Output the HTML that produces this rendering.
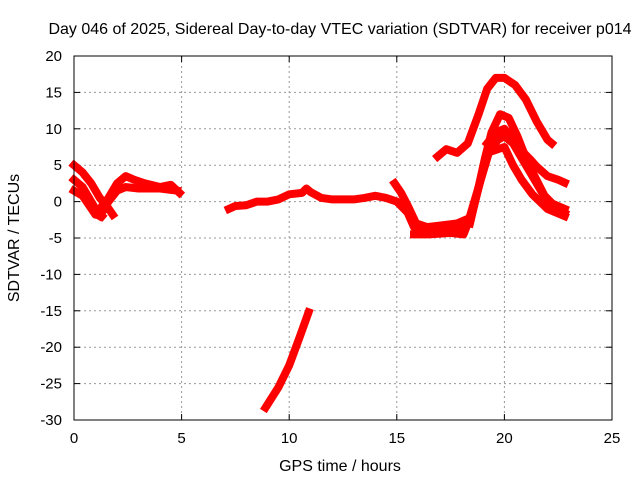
<!DOCTYPE html>
<html><head><meta charset="utf-8"><style>
body{margin:0;background:#fff}
svg{display:block;font-family:"Liberation Sans",sans-serif}
</style></head><body>
<svg id="c" width="640" height="480">
<text x="340" y="34" text-anchor="middle" font-size="16">Day 046 of 2025, Sidereal Day-to-day VTEC variation (SDTVAR) for receiver p014</text>
<text x="340" y="471" text-anchor="middle" font-size="16">GPS time / hours</text>
<text x="0" y="0" transform="translate(19,238) rotate(-90)" text-anchor="middle" font-size="16">SDTVAR / TECUs</text>
<g id="grid"></g><g id="series"></g>
<rect x="74" y="56" width="538" height="364" fill="none" stroke="#000" stroke-width="1"/>
</svg>
<script>
const xTicks=[0,5,10,15,20,25];
const yTicks=[20,15,10,5,0,-5,-10,-15,-20,-25,-30];
const s1=[[0,5],[0.4,4],[0.8,2.5],[1.2,0.5],[1.5,-0.5],[1.8,-1.8]];
const s2=[[0,3],[0.4,2],[0.8,0],[1.1,-1.5],[1.3,-2]];
const s3=[[0,1.5],[0.4,0.8],[0.7,-0.5],[1,-1.8],[1.2,-1],[1.6,0.5],[2,2.5],[2.4,3.5],[2.8,3],[3.3,2.5],[4,2],[4.5,2.3],[4.9,1.2]];
const s4=[[1.2,-2],[1.6,0],[2,1.5],[2.4,2],[3,1.8],[4,1.8],[4.8,1.5]];
const s5=[[7.2,-1],[7.5,-0.6],[8,-0.5],[8.5,0],[9,0],[9.5,0.3],[10,1],[10.6,1.2],[10.8,1.8],[11,1.3],[11.5,0.5],[12,0.3],[13,0.3],[13.5,0.5],[14,0.8],[14.5,0.5],[15,0],[15.5,-1.5],[15.8,-3.5],[16.3,-4.2],[17,-4],[17.5,-3.8],[18,-4],[18.3,-3],[18.6,0],[19,4],[19.3,7],[19.7,8.5],[20,9],[20.4,8],[20.8,6],[21.3,3.5],[21.8,1],[22.3,-0.5],[22.8,-1.5]];
const s6=[[14.9,2.5],[15.2,1.2],[15.5,-0.5],[15.9,-3],[16.4,-3.5],[17,-3.3],[17.8,-3],[18.2,-2.5]];
const s7=[[16.9,6.2],[17.3,7.2],[17.8,6.7],[18.3,8],[18.8,12],[19.2,15.5],[19.6,17],[20,17],[20.5,16],[21,14],[21.5,11],[22,8.5],[22.2,8]];
const s8=[[18.4,-3],[18.8,2],[19.1,6],[19.4,9.5],[19.8,12],[20.2,11.5],[20.6,9],[21,6],[21.4,3.5],[22,0],[22.8,-1]];
const s9=[[19.2,8],[19.6,9.5],[20,10],[20.4,8.5],[20.8,7],[21.2,5.8],[21.5,4.8],[22,3.5],[22.5,3],[22.8,2.6]];
const s10=[[19.5,7],[20,7.5],[20.4,5],[20.8,3],[21.3,1],[22,-1],[22.8,-2]];
const s11=[[8.9,-28.3],[9.5,-25.5],[10,-22.5],[10.5,-18.5],[10.9,-15.2]];
const s12=[[15.8,-4.5],[16.5,-4.5],[17.5,-4.3],[18.1,-4.5],[18.5,-1.5],[18.9,3],[19.2,6]];
const allSeries=[s1,s2,s3,s4,s5,s6,s7,s8,s9,s10,s11,s12];
const X=v=>74+(v-0)/25*538, Y=v=>56+(20-v)/50*364;
const NS="http://www.w3.org/2000/svg";
const g=document.getElementById('grid'), sg=document.getElementById('series');
function mk(t,a,p){const e=document.createElementNS(NS,t);for(const k in a)e.setAttribute(k,a[k]);p.appendChild(e);return e;}
xTicks.forEach(t=>{const x=X(t);
 if(t>0&&t<25){const l=mk('line',{x1:x,x2:x,y1:56,y2:420,stroke:'#999','stroke-dasharray':'2,3'},g);}
 mk('line',{x1:x,x2:x,y1:420,y2:414,stroke:'#000'},g);mk('line',{x1:x,x2:x,y1:56,y2:62,stroke:'#000'},g);
 const tx=mk('text',{x:x,y:443,'text-anchor':'middle','font-size':15},g);tx.textContent=t;
 });
yTicks.forEach(t=>{const y=Y(t);
 if(t>-30&&t<20){const l=mk('line',{x1:74,x2:612,y1:y,y2:y,stroke:'#999','stroke-dasharray':'2,3'},g);}
 mk('line',{x1:74,x2:80,y1:y,y2:y,stroke:'#000'},g);mk('line',{x1:612,x2:606,y1:y,y2:y,stroke:'#000'},g);
 const tx=mk('text',{x:62,y:y+5,'text-anchor':'end','font-size':15},g);tx.textContent=t;
 });
allSeries.forEach((s,i)=>{const p=mk('polyline',{points:s.map(d=>X(d[0])+','+Y(d[1])).join(' '),fill:'none',stroke:'#f00','stroke-width':8,'stroke-linejoin':'round','stroke-linecap':'square'},sg);
 
 });
</script>
</body></html>
